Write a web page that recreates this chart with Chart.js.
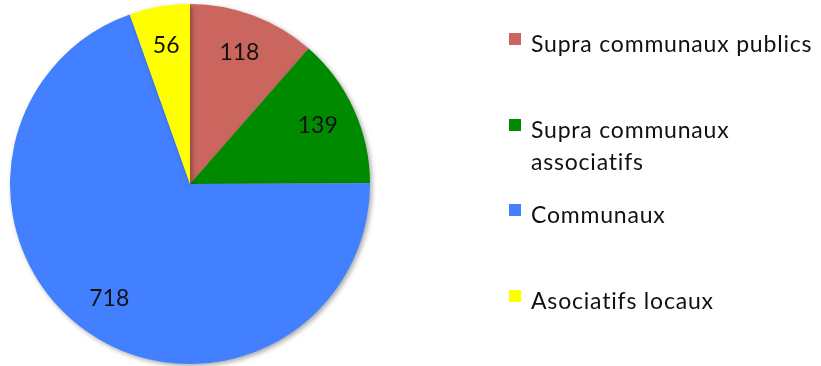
<!DOCTYPE html>
<html>
<head>
<meta charset="utf-8">
<script src="https://cdn.jsdelivr.net/npm/chart.js@4/dist/chart.umd.min.js"></script>
<style>
  html, body { margin: 0; padding: 0; background: #fff; }
  #wrap { position: relative; width: 821px; height: 366px; }
  #pieChart { position: absolute; left: 0; top: 0; }
  #legend { position: absolute; left: 0; top: 0; font-family: Lato, "Open Sans", sans-serif; font-size: 23px; letter-spacing: 0.8px; color: #111; }
  .item { position: absolute; left: 509px; }
  .box { position: absolute; left: 0; top: 6px; width: 12px; height: 12px; }
  .txt { position: absolute; left: 22px; top: 0; white-space: nowrap; line-height: 32px; }
</style>
</head>
<body>
<div id="wrap">
  <canvas id="pieChart" width="821" height="366"></canvas>
  <div id="legend"></div>
</div>
<script>
const categories = ['Supra communaux publics', 'Supra communaux\nassociatifs', 'Communaux', 'Asociatifs locaux'];
const counts = [118, 139, 718, 56];
const sliceColors = ['#CB665F', '#008A00', '#4280FF', '#FFFF00'];
const legendTops = [27, 113, 198, 284];

// soft drop shadow under the pie
const pieShadow = {
    id: 'pieShadow',
    beforeDatasetsDraw(chart) {
        const ctx = chart.ctx;
        ctx.save();
        ctx.shadowColor = 'rgba(0,0,0,0.35)';
        ctx.shadowBlur = 5;
        ctx.shadowOffsetX = 2;
        ctx.shadowOffsetY = 2;
    },
    afterDatasetsDraw(chart) {
        chart.ctx.restore();
    }
};

// value labels inside each slice
const sliceLabels = {
    id: 'sliceLabels',
    afterDraw(chart) {
        const ctx = chart.ctx;
        const meta = chart.getDatasetMeta(0);
        ctx.save();
        ctx.font = '23px Lato, "Open Sans", sans-serif';
        ctx.fillStyle = '#111';
        ctx.textAlign = 'center';
        ctx.textBaseline = 'middle';
        meta.data.forEach((arc, i) => {
            const p = arc.getProps(['x', 'y', 'startAngle', 'endAngle', 'outerRadius'], true);
            const mid = (p.startAngle + p.endAngle) / 2;
            const r = p.outerRadius * 0.78;
            ctx.fillText(String(counts[i]), p.x + Math.cos(mid) * r, p.y + Math.sin(mid) * r);
        });
        ctx.restore();
    }
};

const ctx = document.getElementById('pieChart').getContext('2d');
const chart = new Chart(ctx, {
    type: 'pie',
    data: {
        labels: categories,
        datasets: [{
            data: counts,
            backgroundColor: sliceColors,
            borderWidth: 0
        }]
    },
    options: {
        responsive: false,
        animation: { duration: 0 },
        layout: {
            padding: { left: 10, top: 4, bottom: 2, right: 451 }
        },
        plugins: {
            legend: { display: false },
            tooltip: { enabled: false }
        }
    },
    plugins: [pieShadow, sliceLabels]
});

// legend on the right
const legend = document.getElementById('legend');
categories.forEach((name, i) => {
    const item = document.createElement('div');
    item.className = 'item';
    item.style.top = legendTops[i] + 'px';
    const box = document.createElement('div');
    box.className = 'box';
    box.style.background = sliceColors[i];
    const txt = document.createElement('div');
    txt.className = 'txt';
    txt.innerHTML = name.split('\n').join('<br>');
    item.appendChild(box);
    item.appendChild(txt);
    legend.appendChild(item);
});
</script>
</body>
</html>
